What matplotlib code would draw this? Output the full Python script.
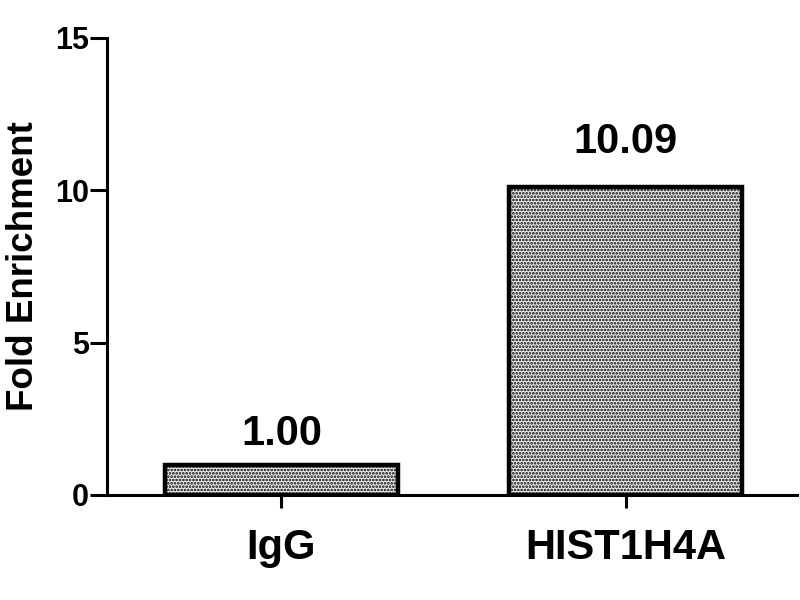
import matplotlib
matplotlib.use("Agg")
import matplotlib.pyplot as plt

categories = ["IgG", "HIST1H4A"]
values = [1.00, 10.09]
value_labels = ["1.00", "10.09"]
yticks = [0, 5, 10, 15]

plt.rcParams['font.family'] = ['Liberation Sans', 'DejaVu Sans']
plt.rcParams['hatch.linewidth'] = 1.3
plt.rcParams['hatch.color'] = '#111111'

fig = plt.figure(figsize=(8, 6), dpi=100)
ax = fig.add_axes([0.134, 0.175, 0.862, 0.762])

x = range(len(categories))
bars = ax.bar(x, values, width=0.675, color='#eeeeee', edgecolor='black',
              linewidth=3.2, hatch='.....')

# label heights above the bar top differ a bit, as in the source figure
label_offsets = [14, 25]
for xi, v, lab, off in zip(x, values, value_labels, label_offsets):
    ax.annotate(lab, (xi, v), xytext=(0, off), textcoords='offset points',
                ha='center', va='baseline', fontsize=30, fontweight='bold')

ax.set_xlim(-0.506, 1.497)
ax.set_ylim(0, 15)
ax.set_yticks(yticks)
ax.set_xticks(list(x))
ax.set_xticklabels(categories, fontsize=30, fontweight='bold')
ax.tick_params(axis='y', labelsize=22, width=2.2, length=12, pad=1)
for t in ax.get_yticklabels():
    t.set_fontweight('bold')
ax.tick_params(axis='x', width=2.2, length=9, pad=15)
ax.set_ylabel("Fold Enrichment", fontsize=26.5, fontweight='bold', labelpad=10)

for side in ['top', 'right']:
    ax.spines[side].set_visible(False)
for side in ['left', 'bottom']:
    ax.spines[side].set_linewidth(2.2)

fig.savefig("out.png", dpi=100)
